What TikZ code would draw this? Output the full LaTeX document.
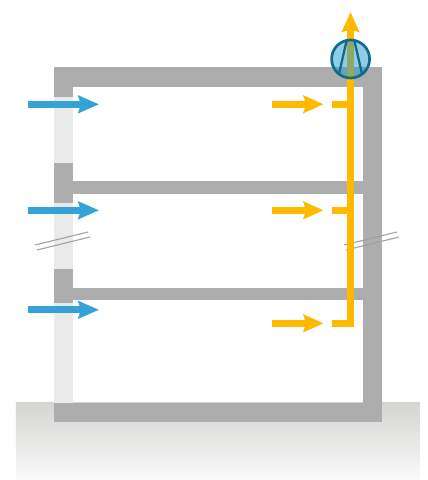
\documentclass[tikz,border=0pt]{standalone}
\usetikzlibrary{arrows.meta}
\definecolor{wallgray}{HTML}{ADADAD}
\definecolor{panelgray}{HTML}{E9EBEA}
\definecolor{groundtop}{HTML}{D4D4D2}
\definecolor{groundlow}{HTML}{FAFAFA}
\definecolor{airblue}{HTML}{35A2D5}
\definecolor{airyellow}{HTML}{FFB900}
\definecolor{fanblue}{HTML}{1F9BCD}
\definecolor{fanline}{HTML}{0F6A8C}
\definecolor{breakgray}{HTML}{A0A0A0}
\tikzset{
  wall/.style={fill=wallgray},
  panel/.style={fill=panelgray},
  airin/.style={airblue, line width=5pt, -{Stealth[length=15.5pt, width=13pt, inset=2pt]}},
  airout/.style={airyellow, line width=5pt, -{Stealth[length=15pt, width=13pt, inset=2pt]}},
  duct/.style={fill=airyellow},
  breakline/.style={breakgray, line width=0.8pt},
}
\begin{document}
\begin{tikzpicture}[x=0.75pt, y=-0.75pt]
  \useasboundingbox (0,0) rectangle (428,480);
  % el terreno
  \shade[top color=groundtop, bottom color=groundlow] (16,402) rectangle (420,480);
  % los paneles claros de la fachada
  \foreach \y/\yy in {97/163,203/269,303/403} {
    \fill[panel] (54,\y) rectangle (73,\yy);
  }
  % los muros y los forjados
  \fill[wall] (54,67) rectangle (382,87);
  \fill[wall] (363,67) rectangle (382,422);
  \fill[wall] (54,403) rectangle (382,422);
  \fill[wall] (54,87) rectangle (73,97);
  \fill[wall] (54,163) rectangle (73,203);
  \fill[wall] (54,269) rectangle (73,303);
  \fill[wall] (73,181) rectangle (363,194);
  \fill[wall] (73,288) rectangle (363,300);
  % las marcas de corte
  \foreach \x in {0,309} {
    \draw[breakline] (35+\x,245) -- (88+\x,232);
    \draw[breakline] (37+\x,250) -- (90+\x,237);
  }
  % el conducto con sus ramales
  \fill[duct] (347,30) rectangle (354,327);
  \foreach \y in {101,207} {
    \fill[duct] (332,\y) rectangle (347,\y+6.5);
  }
  \fill[duct] (332,320) rectangle (347,327);
  \draw[airout] (350.5,34) -- (350.5,12);
  % las flechas de entrada y de salida
  \foreach \y in {104.3,210.3,309.8} {
    \draw[airin] (28,\y) -- (99,\y);
  }
  \foreach \y in {104.3,210.3,323.3} {
    \draw[airout] (272,\y) -- (323.5,\y);
  }
  % el ventilador
  \fill[fanblue, fill opacity=0.5] (350.6,59) circle (19);
  \draw[fanline, line width=1.7pt] (346.5,41) -- (339,74);
  \draw[fanline, line width=1.7pt] (354.5,41) -- (362,74);
  \draw[fanline, line width=2pt] (350.6,59) circle (19);
\end{tikzpicture}
\end{document}
